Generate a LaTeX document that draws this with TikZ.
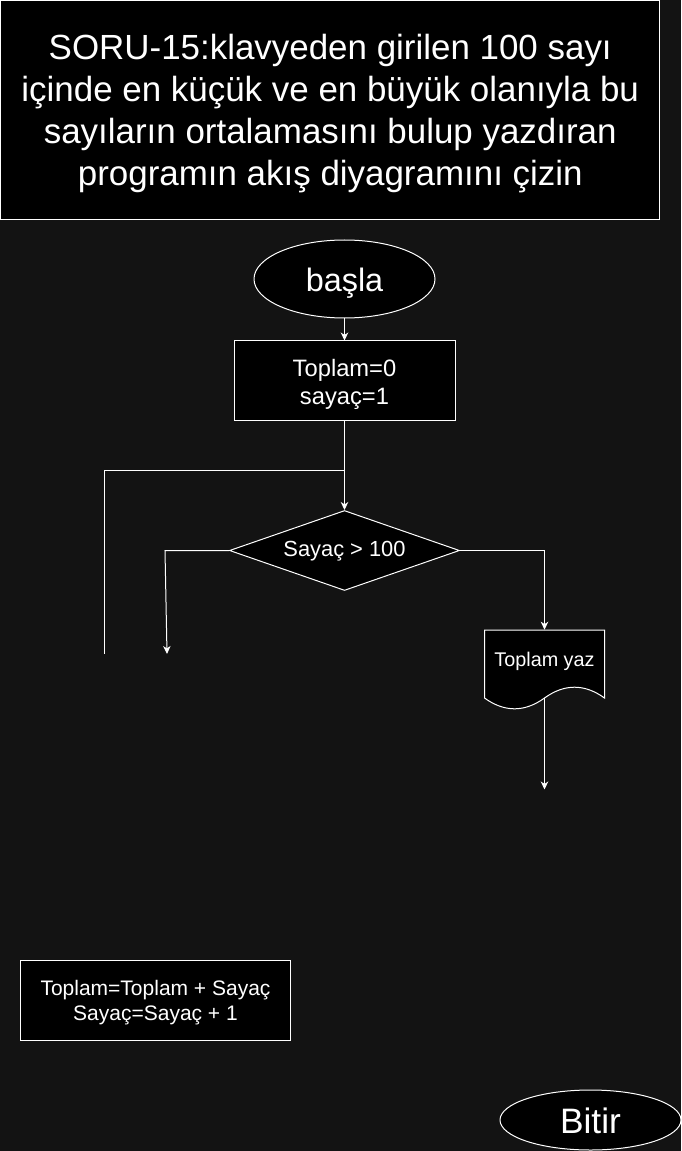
\documentclass[tikz,border=0pt]{standalone}
\usepackage{fontspec}
\setmainfont{Liberation Sans}
\usetikzlibrary{shapes.geometric,arrows.meta}
\definecolor{bg}{HTML}{131313}
\newcommand{\myfs}[2]{\fontsize{#1}{#2}\selectfont}
\begin{document}
\begin{tikzpicture}[x=0.75pt,y=-0.75pt,
  box/.style={draw=white, fill=black, line width=0.75pt, inner sep=0pt},
  txt/.style={text=white, inner sep=0pt, align=center},
  arr/.style={draw=white, line width=0.75pt, -{Stealth[length=6pt,width=5.6pt,inset=1.8pt]}},
  ln/.style={draw=white, line width=0.75pt}]
\fill[bg] (0,0) rectangle (681,1151);
\useasboundingbox (0,0) rectangle (681,1151);

% title
\node[box, minimum width=494.6pt, minimum height=164.6pt] (title) at (330.25,110.25) {};
\node[txt, font=\myfs{26.2pt}{31.6pt}] (titletxt) at (330.25,113.5)
  {SORU-15:klavyeden girilen 100 sayı\\içinde en küçük ve en büyük olanıyla bu\\sayıların ortalamasını bulup yazdıran\\programın akış diyagramını çizin};

% start
\node[box, ellipse, minimum width=135.75pt, minimum height=58.5pt] (start) at (344.5,279) {};
\node[txt, font=\myfs{24.3pt}{28pt}] (starttxt) at (344.5,283) {başla};

% init
\node[box, minimum width=165.75pt, minimum height=59.25pt] (init) at (344.5,380.5) {};
\node[txt, font=\myfs{17.8pt}{20.8pt}] (inittxt) at (344.5,384.5) {Toplam=0\\sayaç=1};

% decision
\node[box, diamond, aspect=2.875, minimum width=172.5pt, minimum height=60pt] (dec) at (344.5,550.5) {};
\node[txt, font=\myfs{16.4pt}{19.5pt}] (dectxt) at (344.5,551.5) {Sayaç > 100};

% output (document shape)
\node[inner sep=0pt, minimum width=90pt, minimum height=60pt] (out) at (544.5,670) {};
\draw[ln, fill=black] (484.5,630) -- (604.5,630) -- (604.5,698)
  .. controls (584.5,683.6) and (564.5,683.6) .. (544.5,698)
  .. controls (524.5,712.4) and (504.5,712.4) .. (484.5,698) -- cycle;
\node[txt, font=\myfs{14.85pt}{17pt}] (outtxt) at (544.5,661) {Toplam yaz};
\coordinate (outb) at (544.5,698);
\coordinate (e1) at (544.5,789.5);

% update
\node[box, minimum width=202.5pt, minimum height=60pt] (upd) at (155.5,1000) {};
\node[txt, font=\myfs{15.75pt}{18.9pt}] (updtxt) at (155.5,1003) {Toplam=Toplam + Sayaç\\Sayaç=Sayaç + 1};

% end
\node[box, ellipse, minimum width=135.75pt, minimum height=45pt] (fin) at (590.5,1120) {};
\node[txt, font=\myfs{26.5pt}{30pt}] (fintxt) at (590.5,1120.5) {Bitir};

% connectors
\coordinate (j) at (344.5,470.3);
\coordinate (loopend) at (104,654);
\coordinate (lb) at (165,550.5);
\coordinate (lend) at (167,654);

\draw[arr] (start.south) -- (init.north);
\draw[arr] (init.south) -- (dec.north);
\draw[ln] (j) -| (loopend);
\draw[arr] (dec.west) -- (lb) -- (lend);
\draw[arr] (dec.east) -| (out.north);
\draw[arr] (outb) -- (e1);
\end{tikzpicture}
\end{document}
